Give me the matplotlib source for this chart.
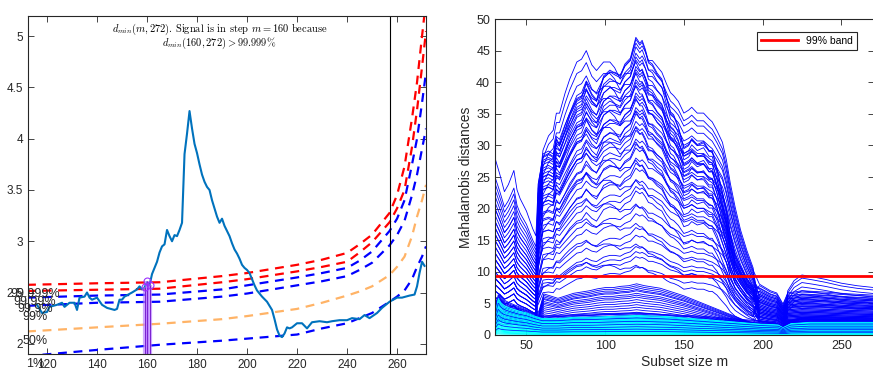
import numpy as np
import matplotlib
matplotlib.use('Agg')
import matplotlib.pyplot as plt

plt.rcParams['font.family'] = ['Liberation Sans', 'DejaVu Sans']
plt.rcParams['mathtext.fontset'] = 'cm'

# ---------------- left panel data: minimum deletion residual ----------------
m_curve = [116, 118, 120, 121, 124, 126, 127, 129, 131, 132, 133, 135, 136, 137, 138, 140,
           142, 144, 147, 148, 149, 150, 151, 154, 156, 157, 158, 159, 160, 161, 162, 163,
           164, 165, 166, 167, 168, 169, 170, 171, 172, 173, 174, 175, 176, 177, 178, 179,
           180, 181, 182, 183, 184, 185, 186, 187, 188, 189, 190, 191, 192, 193, 194, 195,
           196, 197, 198, 199, 200, 201, 202, 203, 204, 206, 208, 210, 211, 212, 213, 214,
           215, 216, 217, 218, 219, 220, 222, 224, 226, 229, 232, 234, 237, 240, 242, 245,
           247, 249, 252, 254, 257, 260, 262, 265, 267, 268, 269, 270, 271]
d_min = [2.38, 2.30, 2.31, 2.36, 2.38, 2.40, 2.36, 2.40, 2.40, 2.33, 2.45, 2.46, 2.50, 2.45,
         2.43, 2.45, 2.38, 2.35, 2.33, 2.34, 2.43, 2.43, 2.46, 2.50, 2.53, 2.56, 2.53, 2.55,
         2.60, 2.57, 2.68, 2.74, 2.80, 2.89, 2.95, 2.97, 3.11, 3.05, 3.00, 3.06, 3.05, 3.11,
         3.18, 3.85, 4.05, 4.27, 4.10, 3.95, 3.86, 3.75, 3.65, 3.58, 3.53, 3.50, 3.40, 3.32,
         3.24, 3.18, 3.22, 3.15, 3.10, 3.05, 2.98, 2.92, 2.88, 2.83, 2.77, 2.74, 2.72, 2.69,
         2.63, 2.57, 2.52, 2.46, 2.41, 2.33, 2.24, 2.14, 2.08, 2.065, 2.10, 2.16, 2.15, 2.16,
         2.18, 2.20, 2.20, 2.15, 2.21, 2.22, 2.21, 2.22, 2.23, 2.23, 2.25, 2.24, 2.28, 2.25,
         2.30, 2.35, 2.41, 2.45, 2.45, 2.47, 2.48, 2.56, 2.69, 2.80, 2.76]

m_band = [112, 140, 165, 190, 200, 220, 230, 240, 245, 250, 257, 260, 263, 266, 268, 270, 271.6]
band_labels = ['1%', '50%', '99%', '99.9%', '99.99%', '99.999%']
band_colors = ['b', (1, 0.7, 0.4), 'b', 'b', 'r', 'r']
band_1 = [1.88, 1.94, 1.99, 2.03, 2.05, 2.09, 2.15, 2.20, 2.25, 2.30, 2.41, 2.46, 2.52, 2.63, 2.75, 2.85, 2.95]
band_50 = [2.12, 2.16, 2.195, 2.24, 2.27, 2.34, 2.40, 2.47, 2.51, 2.56, 2.67, 2.75, 2.85, 3.05, 3.24, 3.40, 3.55]
band_99 = [2.37, 2.40, 2.41, 2.46, 2.49, 2.57, 2.61, 2.66, 2.72, 2.79, 2.96, 3.06, 3.20, 3.45, 3.65, 3.90, 4.10]
band_999 = [2.45, 2.47, 2.48, 2.53, 2.57, 2.647, 2.69, 2.74, 2.81, 2.90, 3.10, 3.22, 3.40, 3.75, 4.00, 4.35, 4.65]
band_9999 = [2.515, 2.527, 2.537, 2.60, 2.63, 2.706, 2.75, 2.80, 2.89, 2.99, 3.185, 3.32, 3.50, 3.92, 4.28, 4.70, 5.05]
band_99999 = [2.575, 2.59, 2.60, 2.66, 2.69, 2.77, 2.82, 2.886, 2.97, 3.064, 3.276, 3.45, 3.73, 4.20, 4.55, 5.00, 5.35]
bands = [band_1, band_50, band_99, band_999, band_9999, band_99999]
label_y = [1.80, 2.03, 2.26, 2.34, 2.41, 2.49]

signal_m = [159, 160, 161]
signal_val = [2.55, 2.61, 2.57]
m_stop = 257

# ---------------- right panel data: forward plot of MD ----------------
# outlying units: start (m<57), hump (57-194) and tail (m>=198)
m_left = [30, 33, 36, 38.5, 42, 44, 46, 50, 54, 56]
shape_left = [1.0, 0.91, 0.81, 0.85, 0.93, 0.82, 0.77, 0.70, 0.60, 0.56]

m_hump = [57.5, 60.5, 64, 67, 69, 71, 74.5, 77.5, 82, 85, 88, 91.5, 94.5, 99, 103, 106,
          109.5, 112.5, 116, 119.5, 122, 123.5, 125.5, 127.5, 130, 133, 136, 139, 141.5,
          143.5, 146.5, 150, 153, 155, 158.5, 162.5, 166, 168, 171, 174.5, 177, 179.5,
          182.5, 186, 190, 194]
# three hump shapes (relative to each unit's maximum)
hump_peaked = [0.51, 0.60, 0.61, 0.60, 0.66, 0.64, 0.69, 0.74, 0.79, 0.80, 0.85, 0.81, 0.79,
               0.87, 0.89, 0.88, 0.87, 0.91, 0.93, 1.00, 0.98, 0.99, 0.96, 0.92, 0.91, 0.88,
               0.86, 0.80, 0.75, 0.74, 0.70, 0.63, 0.64, 0.66, 0.64, 0.65, 0.62, 0.62, 0.56,
               0.48, 0.42, 0.34, 0.27, 0.23, 0.19, 0.16]
hump_flat = [0.45, 0.62, 0.63, 0.62, 0.68, 0.67, 0.72, 0.76, 0.82, 0.83, 0.87, 0.84, 0.83,
             0.88, 0.90, 0.90, 0.89, 0.92, 0.94, 1.00, 0.98, 0.99, 0.97, 0.94, 0.94, 0.92,
             0.90, 0.86, 0.83, 0.82, 0.80, 0.76, 0.77, 0.78, 0.76, 0.76, 0.74, 0.73, 0.70,
             0.66, 0.60, 0.52, 0.44, 0.36, 0.29, 0.23]
hump_early = [0.50, 0.65, 0.70, 0.72, 0.78, 0.78, 0.85, 0.90, 0.96, 0.97, 1.00, 0.95, 0.93,
              0.96, 0.96, 0.94, 0.90, 0.92, 0.92, 0.96, 0.93, 0.93, 0.90, 0.86, 0.85, 0.82,
              0.80, 0.75, 0.72, 0.71, 0.68, 0.63, 0.64, 0.65, 0.63, 0.63, 0.60, 0.60, 0.55,
              0.46, 0.40, 0.32, 0.26, 0.22, 0.18, 0.16]
hump_shapes = [hump_peaked, hump_flat, hump_early]

m_tail = [198, 205, 209, 213, 216, 225, 240, 255, 271]
shape_tail = [1.15, 1.0, 0.95, 0.7, 0.95, 1.0, 0.97, 0.93, 0.9]

peaks_hi = [47.1, 46.8, 46.2, 45.6, 45.0, 44.6, 44.0, 43.5, 43.1, 42.5, 42.0, 41.6, 41.0,
            40.4, 40.0, 39.5, 39.0, 38.3, 37.8, 37.2, 36.8, 36.0, 35.5, 35.0, 34.2, 33.8,
            33.0, 32.4, 31.8, 31.0, 30.2, 29.6, 28.8, 28.0, 27.2, 26.4, 25.5, 24.6, 23.5,
            22.8, 21.6, 20.5, 19.2, 18.4, 17.0, 15.8, 15.0, 14.0, 13.2, 12.4, 11.5, 10.8]
shape_hi = [0, 0, 1, 0, 2, 1, 0, 1, 2, 0, 1, 0, 2, 1, 0, 1, 2, 0, 1, 1, 2, 0, 1, 0, 2, 1,
            1, 0, 2, 1, 0, 1, 2, 1, 0, 1, 2, 1, 1, 0, 2, 1, 1, 2, 1, 1, 2, 1, 1, 1, 2, 1]
start_hi = [28, 12, 22, 6, 18, 9, 25, 14, 4, 20, 11, 16, 7, 24, 3, 19, 13, 8, 21, 10, 17, 5,
            15, 23, 9, 12, 6, 18, 14, 4, 11, 20, 8, 16, 3, 13, 7, 10, 5, 15, 9, 6, 12, 4, 8,
            3, 5, 17, 7, 11, 2, 9]
tail_hi = [4.5, 6.5, 3.2, 5.8, 2.5, 7.0, 4.0, 3.0, 6.0, 2.2, 5.0, 3.6, 6.8, 2.8, 4.6, 5.4,
           2.0, 3.8, 6.2, 4.2, 3.4, 5.6, 2.6, 4.8, 3.0, 6.4, 2.4, 5.2, 3.6, 4.4, 1.8, 5.0,
           3.2, 2.8, 4.0, 6.0, 2.2, 3.8, 4.6, 2.6, 5.4, 3.4, 1.6, 4.2, 3.0, 2.0, 3.6, 4.8,
           2.4, 5.6, 3.2, 1.9]

# units with a low hump
m_lo = [30, 33, 36, 40, 45, 50, 55, 58, 61, 65, 70, 75, 80, 85, 90, 95, 100, 105, 110, 115,
        120, 125, 130, 135, 140, 150, 160, 170, 180, 190, 200, 210, 213, 216, 225, 240, 255, 271]
md_lo = [5.0, 6.5, 5.5, 5.0, 4.5, 4.0, 3.5, 3.8, 6.5, 6.2, 5.8, 6.2, 6.6, 6.8, 7.0, 7.3, 7.5,
         7.5, 7.7, 7.8, 8.1, 7.8, 7.6, 7.4, 7.0, 6.2, 5.2, 4.2, 3.2, 2.2, 1.6, 1.3, 1.0, 2.2,
         2.8, 2.8, 2.7, 2.6]
peaks_lo = [8.1, 7.8, 7.5, 7.2, 7.0, 6.6, 6.3, 6.0, 5.6, 5.2, 4.8, 4.4, 4.0, 3.6, 3.2, 2.8]

# units that rise again after m = 213
m_tl = [30, 40, 50, 60, 80, 100, 120, 140, 160, 180, 200, 208, 213, 216, 220, 225, 232, 240,
        250, 260, 271]
md_tl = [4.0, 3.5, 3.0, 3.0, 3.2, 3.4, 3.5, 3.2, 3.0, 2.6, 2.2, 2.0, 1.2, 7.0, 8.6, 9.5, 9.2,
         8.8, 8.2, 7.8, 7.5]
peaks_tl = [9.5, 9.0, 8.3, 7.6, 7.0, 6.4, 5.8, 5.2]

# units of the good group (cyan) and a few low blue ones
m_cy = [30, 32, 34, 36, 40, 45, 50, 55, 60, 70, 80, 90, 100, 110, 120, 130, 140, 150, 160,
        170, 180, 190, 200, 210, 213, 218, 230, 250, 271]
md_cy = [3.5, 5.8, 5.0, 4.6, 4.2, 3.8, 3.5, 3.0, 2.6, 2.6, 2.8, 2.8, 2.9, 3.0, 3.1, 3.0, 2.9,
         2.7, 2.5, 2.3, 2.1, 1.9, 1.7, 1.6, 1.2, 1.8, 2.0, 2.0, 2.0]
levels_cy = [1.0, 0.95, 0.9, 0.85, 0.8, 0.76, 0.72, 0.68, 0.64, 0.6, 0.56, 0.52, 0.48, 0.44,
             0.4, 0.36, 0.33, 0.3, 0.27, 0.24, 0.21, 0.18, 0.15, 0.12, 0.09, 0.06, 0.03]
levels_lowblue = [1.1, 0.87, 0.7, 0.55, 0.42, 0.3, 0.18]

band_md = 9.3

# ---------------- figure ----------------
fig = plt.figure(figsize=(8.73, 3.70), dpi=100)
ax1 = fig.add_axes([0.0321, 0.0432, 0.4559, 0.9143])
ax2 = fig.add_axes([0.567, 0.0946, 0.4345, 0.854])

tick_col = '#262626'

# left panel
for vals, col in zip(bands, band_colors):
    ax1.plot(m_band, vals, color=col, lw=1.6, ls=(0, (4, 3)))
ax1.plot(m_curve, d_min, color='#0072BD', lw=1.5)
ax1.vlines(signal_m, 1.9, signal_val, color='#b070ff', lw=3.0, alpha=0.6)
ax1.vlines(signal_m, 1.9, signal_val, color='#7a1fd0', lw=0.7)
ax1.plot(signal_m, signal_val, 'o', mfc='none', mec='#9b30ff', ms=5, mew=0.8)
ax1.axvline(m_stop, color='k', lw=0.8)

for lab, y in zip(band_labels, label_y):
    ax1.text(115.2, y, lab, ha='center', va='center', fontsize=9, color=tick_col,
             clip_on=False)

ax1.text(189, 5.07, r'$d_{min}(m,272)$. Signal is in step $m=160$ because',
         ha='center', va='center', fontsize=7.5, family='cmr10')
ax1.text(189, 4.93, r'$d_{min}(160,272) > 99.999\%$', ha='center', va='center', fontsize=7.5)

ax1.set_xlim(112.4, 271.6)
ax1.set_ylim(1.9, 5.2)
ax1.set_xticks(np.arange(120, 261, 20))
ax1.set_yticks(np.arange(2, 5.01, 0.5))
ax1.set_yticklabels(['2', '2.5', '3', '3.5', '4', '4.5', '5'])

# right panel
mm = m_left + m_hump + m_tail
for p, k, s0, t in zip(peaks_hi, shape_hi, start_hi, tail_hi):
    yy = ([s0 * v for v in shape_left] + [p * v for v in hump_shapes[k]]
          + [t * v for v in shape_tail])
    ax2.plot(mm, yy, color='b', lw=0.6)
for p in peaks_lo:
    ax2.plot(m_lo, np.array(md_lo) * p / 8.1, color='b', lw=0.6)
for p in peaks_tl:
    ax2.plot(m_tl, np.array(md_tl) * p / 9.5, color='b', lw=0.6)
for lv in levels_cy:
    ax2.plot(m_cy, np.array(md_cy) * lv, color='#00FFFF', lw=0.7)
for lv in levels_lowblue:
    ax2.plot(m_cy, np.array(md_cy) * lv, color='b', lw=0.5)
ax2.axhline(band_md, color='r', lw=2, label='99% band')

ax2.set_xlim(30, 271)
ax2.set_ylim(0, 50)
ax2.set_xticks([50, 100, 150, 200, 250])
ax2.set_yticks(np.arange(0, 51, 5))
ax2.set_xlabel('Subset size m', fontsize=10, color=tick_col, labelpad=2)
ax2.set_ylabel('Mahalanobis distances', fontsize=10, color=tick_col, labelpad=2)
leg = ax2.legend(loc='upper right', fontsize=7.5, fancybox=False, framealpha=1,
                 edgecolor='#262626', handlelength=3.5, borderaxespad=1.2,
                 bbox_to_anchor=(0.988, 1.0))
leg.get_frame().set_linewidth(0.8)

for ax in (ax1, ax2):
    ax.tick_params(direction='in', top=True, right=True, labelsize=9,
                   colors=tick_col, length=4, width=0.6)
    for s in ax.spines.values():
        s.set_color(tick_col)
        s.set_linewidth(0.8)
ax1.tick_params(labelsize=8.5)

fig.savefig('out.png', dpi=100)
